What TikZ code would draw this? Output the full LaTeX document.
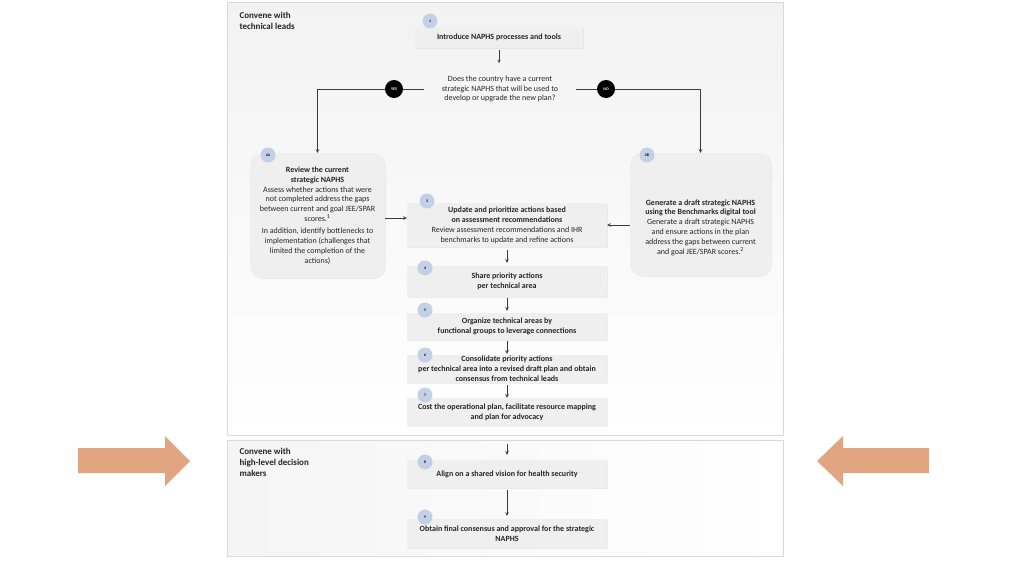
\documentclass[tikz,border=0pt]{standalone}
\usepackage{fontspec}
\setmainfont{Carlito}
\usetikzlibrary{shapes.geometric,shadows}
\definecolor{boxgrey}{HTML}{EFEFEF}
\definecolor{numblue}{HTML}{C3D0E6}
\definecolor{peach}{HTML}{E2A581}
\definecolor{linegrey}{HTML}{3A3A3A}
\tikzset{
  stepbox/.style={fill=boxgrey,minimum width=200pt,align=center,inner sep=1pt,text=black!85,
    font=\fontsize{8}{10}\selectfont\bfseries,
    drop shadow={opacity=0.12,shadow xshift=0.8pt,shadow yshift=-0.8pt}},
  sidebox/.style={fill=boxgrey,rounded corners=12pt,
    drop shadow={opacity=0.12,shadow xshift=0.8pt,shadow yshift=-0.8pt}},
  sidetext/.style={align=center,text=black!85,font=\fontsize{8}{9.8}\selectfont},
  num/.style={circle,fill=numblue,minimum size=15pt,inner sep=0pt,font=\fontsize{3.8}{4}\selectfont\bfseries},
  yesno/.style={circle,fill=black,text=white,minimum size=18pt,inner sep=0pt,font=\fontsize{4}{4}\selectfont\bfseries},
  flow/.style={->,>=stealth,draw=linegrey,line width=0.6pt},
  section/.style={anchor=north west,align=left,text=black!85,font=\fontsize{9}{11}\selectfont\bfseries}
}
\begin{document}
\begin{tikzpicture}[x=1pt,y=-1pt]
  \useasboundingbox (0,0) rectangle (1024,576);

  % panels
  \draw[draw=black!15,top color=black!5,bottom color=white] (227,2) rectangle (783,435);
  \draw[draw=black!15,left color=black!4,right color=white] (227,440) rectangle (783,556);
  \node[section] (tl) at (236,9) {Convene with\\technical leads};
  \node[section] (hl) at (236,445) {Convene with\\high-level decision\\makers};

  % step 1 and question
  \node[stepbox,minimum width=168pt,minimum height=21pt] (s1) at (499,37.5) {Introduce NAPHS processes and tools};
  \node[num] (n1) at (430,21) {1};
  \node[diamond,fill=black!4,minimum width=60pt,minimum height=44pt] (dq) at (500,90) {};
  \node[sidetext,minimum width=152pt] (q) at (500,89)
    {Does the country have a current\\strategic NAPHS that will be used to\\develop or upgrade the new plan?};

  % options 2A and 2B
  \node[sidebox,minimum width=135pt,minimum height=125pt] (2a) at (317.5,215.5) {};
  \node[sidetext] (2at) at (2a.center)
    {\textbf{Review the current}\\\textbf{strategic NAPHS}\\
     Assess whether actions that were\\not completed address the gaps\\
     between current and goal JEE/SPAR\\scores.\textsuperscript{1}\\[2.5pt]
     In addition, identify bottlenecks to\\implementation (challenges that\\
     limited the completion of the\\actions)};
  \node[num] (n2a) at (268,155) {2A};
  \node[sidebox,minimum width=141pt,minimum height=123pt] (2b) at (700.5,214.5) {};
  \node[sidetext] (2bt) at ([yshift=-13pt]2b.center)
    {\textbf{Generate a draft strategic NAPHS}\\\textbf{using the Benchmarks digital tool}\\
     Generate a draft strategic NAPHS\\and ensure actions in the plan\\
     address the gaps between current\\and goal JEE/SPAR scores.\textsuperscript{2}};
  \node[num] (n2b) at (647,155) {2B};

  % steps 3 to 9
  \node[stepbox,minimum height=44pt] (s3) at (507,225)
    {Update and prioritize actions based\\on assessment recommendations\\
     \mdseries Review assessment recommendations and IHR\\
     \mdseries benchmarks to update and refine actions};
  \node[num] (n3) at (427,201) {3};
  \node[stepbox,minimum height=31pt] (s4) at (507,281.5) {Share priority actions\\per technical area};
  \node[num] (n4) at (425,268) {4};
  \node[stepbox,minimum height=27pt] (s5) at (507,326.5)
    {Organize technical areas by\\functional groups to leverage connections};
  \node[num] (n5) at (425,310) {5};
  \node[stepbox,minimum height=28pt] (s6) at (507,369)
    {Consolidate priority actions\\per technical area into a revised draft plan and obtain\\consensus from technical leads};
  \node[num] (n6) at (425,355) {6};
  \node[stepbox,minimum height=28pt] (s7) at (507,412)
    {Cost the operational plan, facilitate resource mapping\\and plan for advocacy};
  \node[num] (n7) at (425,395) {7};
  \node[stepbox,minimum height=28pt] (s8) at (507,474) {Align on a shared vision for health security};
  \node[num] (n8) at (425,462) {8};
  \node[stepbox,minimum height=29pt] (s9) at (507,533.5)
    {Obtain final consensus and approval for the strategic\\NAPHS};
  \node[num] (n9) at (425,517) {9};

  % connectors
  \draw[flow,shorten <=2pt,shorten >=9pt] (s1) -- (s1 |- q.north);
  \draw[flow] (q.west) -| node[yesno,pos=0.14] (yes) {YES} (2a.north);
  \draw[flow] (q.east) -| node[yesno,pos=0.12] (no) {NO} (2b.north);
  \draw[flow] ([yshift=-2.5pt]2a.east) -- ([yshift=-2.5pt]2a.east -| s3.west);
  \draw[flow] (s3.east -| 2b.west) -- (s3.east);
  \draw[flow,shorten <=3pt,shorten >=3pt] (s3) -- (s4);
  \draw[flow,shorten <=1pt,shorten >=2pt] (s4) -- (s5);
  \draw[flow,shorten <=1pt,shorten >=1pt] (s5) -- (s6);
  \draw[flow,shorten <=2pt,shorten >=0pt] (s6) -- (s7);
  \draw[flow,shorten <=18pt,shorten >=5pt] (s7) -- (s8);
  \draw[flow,shorten <=2pt,shorten >=3pt] (s8) -- (s9);

  % side arrows
  \fill[peach] (78,448) -- (165,448) -- (165,436) -- (190,461) -- (165,486)
    -- (165,473) -- (78,473) -- cycle;
  \fill[peach] (929,448) -- (843,448) -- (843,436) -- (817,461) -- (843,486)
    -- (843,473) -- (929,473) -- cycle;
\end{tikzpicture}
\end{document}
